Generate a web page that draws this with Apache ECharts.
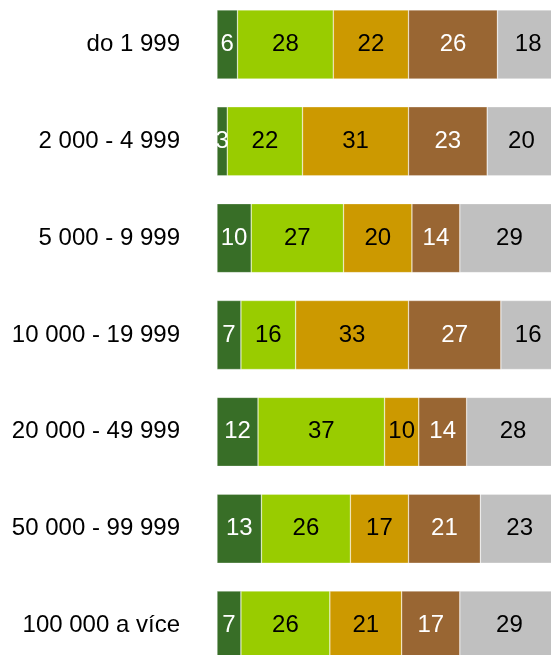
<!DOCTYPE html>
<html><head><meta charset="utf-8">
<script src="https://cdn.jsdelivr.net/npm/echarts@6/dist/echarts.min.js"></script>
<style>html,body{margin:0;padding:0;background:#fff}#c{width:551px;height:655px}</style>
</head><body><div id="c"></div>
<script>
const categories = ["do 1 999","2 000 - 4 999","5 000 - 9 999","10 000 - 19 999","20 000 - 49 999","50 000 - 99 999","100 000 a více"];
const s1 = [6,3,10,7,12,13,7];
const s2 = [28,22,27,16,37,26,26];
const s3 = [22,31,20,33,10,17,21];
const s4 = [26,23,14,27,14,21,17];
const s5 = [18,20,29,16,28,23,29];
const seriesData = [s1,s2,s3,s4,s5];
const colors = ['#386e27','#99cc00','#cc9900','#996633','#c0c0c0'];
const labelColors = ['#fff','#000','#000','#fff','#000'];
const chart = echarts.init(document.getElementById('c'), null, {renderer:'canvas'});
chart.setOption({
  animation:false,
  grid:{left:217, right:-8, top:-4, bottom:-19, containLabel:false, outerBoundsMode:'none'},
  xAxis:{type:'value', min:0, max:100, show:false},
  yAxis:{type:'category', data:categories, inverse:true,
    axisLine:{show:false}, axisTick:{show:false},
    axisLabel:{margin:37, fontSize:24, color:'#000', fontFamily:'Liberation Sans, Arial, sans-serif'}},
  series: seriesData.map((d,i)=>({
    type:'bar', stack:'a', data:d, barWidth:69,
    itemStyle:{color:colors[i], borderColor:'rgba(255,255,255,0.45)', borderWidth:0.6},
    label:{show:true, position:'inside', fontSize:24, color:labelColors[i], fontFamily:'Liberation Sans, Arial, sans-serif'}
  }))
});
</script></body></html>
